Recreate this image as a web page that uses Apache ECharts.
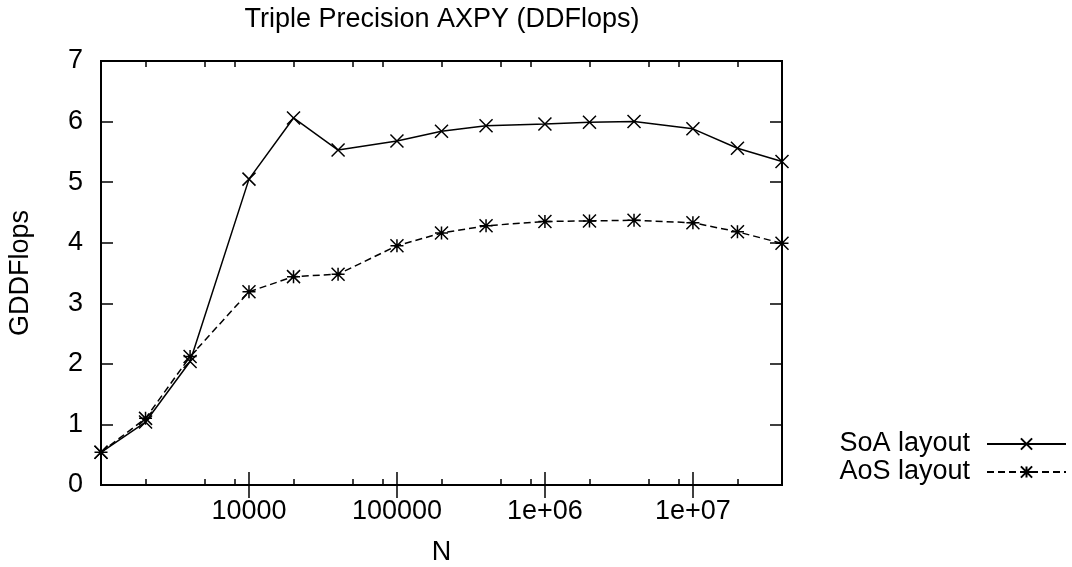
<!DOCTYPE html>
<html>
<head>
<meta charset="utf-8">
<script src="https://cdn.jsdelivr.net/npm/echarts@6/dist/echarts.min.js"></script>
<style>
  html, body { margin: 0; padding: 0; background: #fff; }
  #chart { width: 1072px; height: 567px; }
</style>
</head>
<body>
<div id="chart"></div>
<script>
// problem sizes (N) and measured GDDFlops
var sizes = [1000, 2000, 4000, 10000, 20000, 40000, 100000, 200000, 400000,
             1000000, 2000000, 4000000, 10000000, 20000000, 40000000];
var soaLayout = [0.54, 1.04, 2.04, 5.05, 6.06, 5.53, 5.68, 5.84, 5.93, 5.96, 5.99, 6.00, 5.88, 5.56, 5.34];
var aosLayout = [0.54, 1.10, 2.12, 3.19, 3.44, 3.48, 3.95, 4.16, 4.28, 4.35, 4.36, 4.37, 4.33, 4.18, 3.99];

// x axis ticks (log scale, gnuplot style)
var majorTicks = [10000, 100000, 1000000, 10000000];
var majorLabels = ['10000', '100000', '1e+06', '1e+07'];
var minorTicks = [2000, 5000, 8000, 20000, 50000, 80000, 200000, 500000, 800000,
                  2000000, 5000000, 8000000, 20000000];

var font = '"Liberation Sans", Arial, sans-serif';
var fontSize = 27;
var crossPath = 'path://M0,0L10,10M10,0L0,10';
var starPath = 'path://M0,0L10,10M10,0L0,10M5,0L5,10M0,5L10,5';

function pairs(ys) {
    return sizes.map(function (n, i) { return [n, ys[i]]; });
}

function majorLabel(v) {
    for (var i = 0; i < majorTicks.length; i++) {
        if (Math.abs(Math.log10(v) - Math.log10(majorTicks[i])) < 1e-6) return majorLabels[i];
    }
    return '';
}

function logAxis(grid, pos, ticks, len, withLabels) {
    var ax = {
        type: 'log',
        gridIndex: grid,
        position: pos,
        min: 1000,
        max: 40000000,
        axisLine: { show: false },
        splitLine: { show: false },
        axisTick: {
            inside: true,
            length: len,
            customValues: ticks,
            lineStyle: { color: '#000', width: 1.5 }
        },
        axisLabel: { show: false }
    };
    if (withLabels) {
        ax.axisLabel = {
            show: true,
            customValues: majorTicks,
            formatter: majorLabel,
            margin: 13,
            color: '#000',
            fontSize: fontSize,
            fontFamily: font
        };
        ax.name = 'N';
        ax.nameLocation = 'middle';
        ax.nameGap = 54;
        ax.nameTextStyle = { color: '#000', fontSize: fontSize, fontFamily: font };
    }
    return ax;
}

function valAxis(pos, withLabels) {
    var ax = {
        type: 'value',
        gridIndex: 0,
        position: pos,
        min: 0,
        max: 7,
        interval: 1,
        axisLine: { show: false },
        splitLine: { show: false },
        axisTick: { inside: true, length: 12, lineStyle: { color: '#000', width: 1.5 } },
        axisLabel: { show: false }
    };
    if (withLabels) {
        ax.axisLabel = { show: true, margin: 18, color: '#000', fontSize: fontSize, fontFamily: font };
        ax.name = 'GDDFlops';
        ax.nameLocation = 'middle';
        ax.nameRotate = 90;
        ax.nameGap = 67;
        ax.nameTextStyle = { color: '#000', fontSize: fontSize, fontFamily: font };
    }
    return ax;
}

var chart = echarts.init(document.getElementById('chart'), null, { renderer: 'canvas' });

var option = {
    animation: false,
    backgroundColor: '#fff',
    title: {
        text: 'Triple Precision AXPY (DDFlops)',
        left: 442,
        top: 6,
        padding: 0,
        textAlign: 'center',
        textStyle: { color: '#000', fontSize: fontSize, fontWeight: 'normal', fontFamily: font }
    },
    legend: {
        orient: 'vertical',
        right: 5,
        top: 430,
        align: 'right',
        padding: 0,
        itemWidth: 79,
        itemHeight: 14,
        itemGap: 0,
        selectedMode: false,
        textStyle: { color: '#000', fontSize: fontSize, fontFamily: font, lineHeight: 28, padding: [0, 12, 0, 0] },
        data: ['SoA layout', 'AoS layout']
    },
    grid: [
        { left: 101, top: 61, width: 681, height: 424, show: true, borderColor: '#000', borderWidth: 2,
          backgroundColor: 'transparent', outerBoundsMode: 'none' },
        { left: 101, top: 61, width: 681, height: 424, outerBoundsMode: 'none' }
    ],
    xAxis: [
        logAxis(0, 'bottom', majorTicks, 13, true),
        logAxis(0, 'top', majorTicks, 13, false),
        logAxis(1, 'bottom', minorTicks, 6, false),
        logAxis(1, 'top', minorTicks, 6, false)
    ],
    yAxis: [
        valAxis('left', true),
        valAxis('right', false),
        { type: 'value', gridIndex: 1, show: false, min: 0, max: 7 }
    ],
    series: [
        {
            name: 'SoA layout',
            type: 'line',
            xAxisIndex: 0,
            yAxisIndex: 0,
            data: pairs(soaLayout),
            clip: false,
            symbol: crossPath,
            symbolSize: 13,
            lineStyle: { color: '#000', width: 1.5, type: 'solid' },
            itemStyle: { color: '#000', borderColor: '#000', borderWidth: 1.5 }
        },
        {
            name: 'AoS layout',
            type: 'line',
            xAxisIndex: 0,
            yAxisIndex: 0,
            data: pairs(aosLayout),
            clip: false,
            symbol: starPath,
            symbolSize: 13,
            lineStyle: { color: '#000', width: 1.5, type: [7, 4] },
            itemStyle: { color: '#000', borderColor: '#000', borderWidth: 1.5 }
        }
    ]
};

chart.setOption(option);
</script>
</body>
</html>
